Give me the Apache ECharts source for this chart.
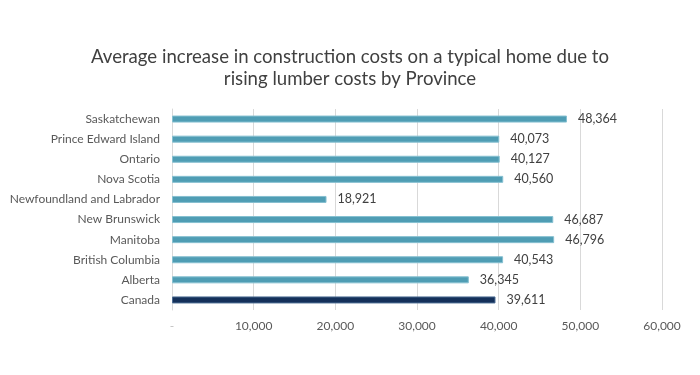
<!DOCTYPE html>
<html><head><meta charset="utf-8">
<script src="https://cdn.jsdelivr.net/npm/echarts@6/dist/echarts.min.js"></script>
<style>html,body{margin:0;padding:0;background:#fff}#c{width:700px;height:375px}</style>
</head><body><div id="c"></div>
<script>
const titleText = "Average increase in construction costs on a typical home due to\nrising lumber costs by Province";
const categories = ["Canada","Alberta","British Columbia","Manitoba","New Brunswick","Newfoundland and Labrador","Nova Scotia","Ontario","Prince Edward Island","Saskatchewan"];
const values = [39611,36345,40543,46796,46687,18921,40560,40127,40073,48364];
const xTicks = [0,10000,20000,30000,40000,50000,60000];

const chart = echarts.init(document.getElementById('c'));
const fmt = v => v === 0 ? '-' : v.toLocaleString('en-US');
chart.setOption({
  animation:false,
  title:{text:titleText,left:'center',top:41,textStyle:{fontFamily:'Lato',fontSize:18.6,fontWeight:'normal',color:'#404040',lineHeight:22}},
  grid:{left:172,right:38,top:109,bottom:65},
  xAxis:{type:'value',min:xTicks[0],max:xTicks[xTicks.length-1],interval:10000,
    axisLine:{show:false},axisTick:{show:false},
    splitLine:{lineStyle:{color:'#d9d9d9',width:1}},
    axisLabel:{margin:10,fontFamily:'Lato',fontSize:12,color:'#595959',
      formatter:v=> v===0 ? '{z|-}' : fmt(v),
      rich:{z:{color:'#bfbfbf',fontFamily:'Lato',fontSize:12}}}},
  yAxis:{type:'category',data:categories,
    axisLine:{show:true,lineStyle:{color:'#d9d9d9'}},axisTick:{show:false},
    axisLabel:{margin:12,fontFamily:'Lato',fontSize:12,color:'#595959'}},
  series:[{type:'bar',barWidth:7,
    data:values.map((v,i)=>({value:v,itemStyle: i===0?{color:'#14305a',borderColor:'#4b6b93',borderWidth:1}:{color:'#4f9db4',borderColor:'#86c0d1',borderWidth:1}})),
    label:{show:true,position:'right',distance:11,fontFamily:'Lato',fontSize:12.5,color:'#404040',formatter:p=>fmt(p.value)}}]
});
</script></body></html>
